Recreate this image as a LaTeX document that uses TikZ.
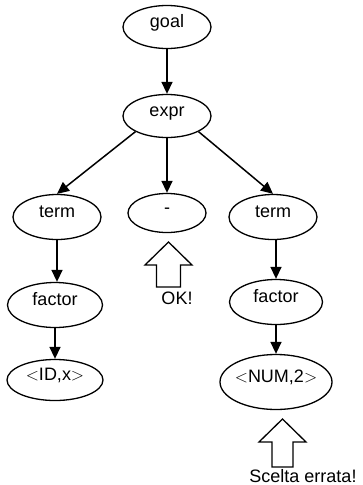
\documentclass[tikz,border=0pt]{standalone}
\usepackage{fontspec}
\setmainfont{Liberation Sans}
\usetikzlibrary{arrows.meta,shapes.geometric}

\begin{document}
\begin{tikzpicture}[
  x=1pt,y=-1pt,
  tok/.style={draw,ellipse,line width=1.3pt,inner sep=0pt,minimum width=88pt,minimum height=43pt,font=\fontsize{18}{20}\selectfont,text height=12pt,text depth=12pt},
  link/.style={-{Triangle[length=12pt,width=11pt]},line width=1.5pt},
  hint/.style={line width=1.3pt,line join=miter},
  lbl/.style={font=\fontsize{18}{20}\selectfont,inner sep=0pt}
]
  \useasboundingbox (0,0) rectangle (362,485);
  \node[tok] (goal) at (167,27) {goal};
  \node[tok] (expr) at (167,116) {expr};
  \node[tok,minimum height=45pt] (term1) at (57,217) {term};
  \node[tok,minimum width=78pt,minimum height=39pt] (minus) at (167,213) {-};
  \node[tok,minimum height=45pt] (term2) at (273,217) {term};
  \node[tok,minimum width=95pt,minimum height=45pt] (fact1) at (55,305) {factor};
  \node[tok,minimum width=93pt,minimum height=45pt] (fact2) at (276,302) {factor};
  \node[tok,minimum width=96pt,minimum height=41pt] (idx) at (55,380) {$<$ID,x$>$};
  \node[tok,minimum width=112pt,minimum height=55pt,inner xsep=-15pt] (num2) at (276,382) {$<$NUM,2$>$};
  \draw[link] (goal) -- (expr);
  \draw[link] (expr.south west) -- (term1.north);
  \draw[link] (expr) -- (minus);
  \draw[link] (expr.south east) -- (term2.north);
  \draw[link] (term1) -- (term1 |- fact1.north);
  \draw[link] (fact2.north |- term2.south) -- (fact2.north);
  \draw[link] (fact1) -- (idx);
  \draw[link] (fact2) -- (num2);
  % hint arrows under the tokens
  \coordinate (okfoot) at (168.5,287);
  \draw[hint,shift={(okfoot)}] (-12,0) -- (-12,-22) -- (-23.5,-22) -- (0,-45) -- (23.5,-22) -- (12,-22) -- (12,0) -- cycle;
  \node[lbl] (ok) at (177,298) {OK!};
  \coordinate (badfoot) at (282.5,467);
  \draw[hint,shift={(badfoot)}] (-10.5,0) -- (-10.5,-25) -- (-23.5,-25) -- (0,-48) -- (23.5,-25) -- (10.5,-25) -- (10.5,0) -- cycle;
  \node[lbl] (bad) at (303,476) {Scelta errata!};
\end{tikzpicture}
\end{document}
